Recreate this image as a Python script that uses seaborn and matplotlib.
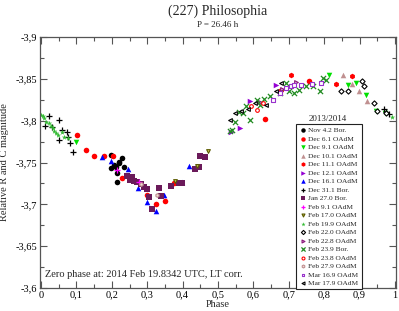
import numpy as np
import pandas as pd
import matplotlib
matplotlib.use('Agg')
import matplotlib.pyplot as plt
from matplotlib.ticker import MultipleLocator, FuncFormatter
import seaborn as sns

# values (phase, relative magnitude)
nov04_ph = [0.199, 0.228, 0.219, 0.197, 0.211, 0.233, 0.216, 0.221, 0.206, 0.215]
nov04_mag = [-3.759, -3.755, -3.749, -3.743, -3.745, -3.745, -3.737, -3.751, -3.747, -3.727]

dec06_ph = [0.101, 0.126, 0.150, 0.178, 0.204, 0.228, 0.300, 0.326, 0.351, 0.376, 0.634, 0.758]
dec06_mag = [-3.783, -3.765, -3.758, -3.758, -3.758, -3.731, -3.711, -3.700, -3.704, -3.726, -3.802, -3.847]

dec09_ph = [0.098, 0.815, 0.866, 0.889, 0.918, 0.946, 0.972]
dec09_mag = [-3.775, -3.855, -3.843, -3.845, -3.831, -3.811, -3.809]

dec10_ph = [0.852, 0.878, 0.899, 0.922]
dec10_mag = [-3.855, -3.844, -3.835, -3.823]

dec11_ph = [0.679, 0.707, 0.833, 0.880]
dec11_mag = [-3.837, -3.855, -3.844, -3.853]

dec12_ph = [0.538, 0.562, 0.590, 0.665]
dec12_mag = [-3.787, -3.791, -3.823, -3.843]

dec16_ph = [0.173, 0.197, 0.246, 0.274, 0.298, 0.326, 0.348, 0.398, 0.419]
dec16_mag = [-3.757, -3.752, -3.742, -3.720, -3.703, -3.692, -3.711, -3.727, -3.746]

dec31_ph = [0.012, 0.022, 0.031, 0.050, 0.051, 0.059, 0.073, 0.075, 0.082, 0.089, 0.969, 0.976, 0.983]
dec31_mag = [-3.794, -3.805, -3.793, -3.777, -3.801, -3.789, -3.787, -3.780, -3.773, -3.763, -3.814, -3.810, -3.808]

jan27_ph = [0.243, 0.256, 0.251, 0.262, 0.270, 0.281, 0.290, 0.298, 0.306, 0.332, 0.339, 0.314,
            0.368, 0.389, 0.398, 0.435, 0.447, 0.448, 0.463]
jan27_mag = [-3.734, -3.733, -3.729, -3.728, -3.727, -3.724, -3.721, -3.718, -3.709, -3.719, -3.710, -3.694,
             -3.722, -3.726, -3.726, -3.742, -3.745, -3.758, -3.756]

feb09_ph = [0.215, 0.276]
feb09_mag = [-3.741, -3.727]

feb17_ph = [0.379, 0.440, 0.473]
feb17_mag = [-3.728, -3.746, -3.764]

feb19_ph = [0.000, 0.005, 0.009, 0.014, 0.022, 0.028, 0.033, 0.037, 0.042, 0.047, 0.058, 0.065, 0.075, 0.993]
feb19_mag = [-3.807, -3.805, -3.803, -3.799, -3.797, -3.794, -3.791, -3.788, -3.785, -3.783, -3.786, -3.781, -3.779, -3.804]

feb22_ph = [0.847, 0.866, 0.908, 0.913, 0.941, 0.950, 0.976]
feb22_mag = [-3.835, -3.835, -3.847, -3.841, -3.821, -3.811, -3.809]

feb22b_ph = [0.620, 0.680, 0.720]
feb22b_mag = [-3.822, -3.838, -3.846]

feb23b_ph = [0.534, 0.540, 0.548, 0.560, 0.571, 0.580, 0.590, 0.609, 0.618, 0.629, 0.646, 0.674,
             0.691, 0.702, 0.716, 0.730, 0.749, 0.768, 0.787, 0.796, 0.806]
feb23b_mag = [-3.788, -3.789, -3.799, -3.810, -3.809, -3.817, -3.801, -3.825, -3.819, -3.826, -3.829, -3.833,
              -3.845, -3.835, -3.833, -3.837, -3.841, -3.841, -3.835, -3.851, -3.849]

feb23o_ph = [0.592, 0.611, 0.626]
feb23o_mag = [-3.817, -3.813, -3.821]

feb27_ph = [0.281, 0.328]
feb27_mag = [-3.724, -3.711]

mar16_ph = [0.655, 0.674, 0.691, 0.707, 0.716, 0.735, 0.766, 0.791]
mar16_mag = [-3.825, -3.833, -3.839, -3.841, -3.843, -3.843, -3.844, -3.845]

mar17_ph = [0.534, 0.548, 0.566, 0.584, 0.604, 0.637, 0.665, 0.679]
mar17_mag = [-3.801, -3.809, -3.811, -3.814, -3.821, -3.819, -3.835, -3.845]

# label, phases, mags, marker, color, fill (None = solid, 'line' = line marker, else face colour)
series = [
    ('Nov 4.2 Bor.', nov04_ph, nov04_mag, 'o', 'black', None),
    ('Dec 6.1 OAdM', dec06_ph, dec06_mag, 'o', 'red', None),
    ('Dec 9.1 OAdM', dec09_ph, dec09_mag, 'v', '#00e000', None),
    ('Dec 10.1 OAdM', dec10_ph, dec10_mag, '^', '#c09090', None),
    ('Dec 11.1 OAdM', dec11_ph, dec11_mag, 'h', 'red', None),
    ('Dec 12.1 OAdM', dec12_ph, dec12_mag, '>', '#9400d3', None),
    ('Dec 16.1 OAdM', dec16_ph, dec16_mag, '^', '#0000ff', None),
    ('Dec 31.1 Bor.', dec31_ph, dec31_mag, '+', 'black', 'line'),
    ('Jan 27.0 Bor.', jan27_ph, jan27_mag, 's', '#6b1a5a', None),
    ('Feb 9.1 OAdM', feb09_ph, feb09_mag, '+', '#ff00ff', 'line'),
    ('Feb 17.0 OAdM', feb17_ph, feb17_mag, 'v', '#5a5a00', '#d8d060'),
    ('Feb 19.9 OAdM', feb19_ph, feb19_mag, '*', '#33bb33', None),
    ('Feb 22.0 OAdM', feb22_ph, feb22_mag, 'D', 'black', 'white'),
    ('Feb 22.8 OAdM', feb22b_ph, feb22b_mag, '>', '#8b1a7a', '#e0b0e0'),
    ('Feb 23.9 Bor.', feb23b_ph, feb23b_mag, 'x', '#228b22', 'line'),
    ('Feb 23.8 OAdM', feb23o_ph, feb23o_mag, 'o', 'red', 'white'),
    ('Feb 27.9 OAdM', feb27_ph, feb27_mag, 'h', '#c09090', '#f0d8d8'),
    ('Mar 16.9 OAdM', mar16_ph, mar16_mag, 's', '#9932cc', 'white'),
    ('Mar 17.9 OAdM', mar17_ph, mar17_mag, '<', 'black', 'white'),
]

sns.set_style('ticks')
plt.rcParams['font.family'] = ['Liberation Serif', 'DejaVu Serif']

fig = plt.figure(figsize=(3.99, 3.11), dpi=100)
ax = fig.add_axes([40 / 399, 1 - 288 / 311, 356 / 399, 251 / 311])

for label, ph, mag, mk, col, fill in series:
    df = pd.DataFrame({'phase': ph, 'mag': mag})
    if fill is None:
        sns.scatterplot(data=df, x='phase', y='mag', ax=ax, marker=mk, color=col,
                        s=16, linewidth=0, label=label)
    elif fill == 'line':
        sns.scatterplot(data=df, x='phase', y='mag', ax=ax, marker=mk, color=col,
                        s=14, linewidth=0.9, label=label)
    else:
        sns.scatterplot(data=df, x='phase', y='mag', ax=ax, marker=mk, facecolor=fill,
                        edgecolor=col, s=7, linewidth=0.8, label=label)

ax.set_xlim(-0.003, 1.003)
ax.set_ylim(-3.6, -3.9)

fmt = FuncFormatter(lambda v, p: ('%g' % round(v, 3)).replace('.', ','))
ax.xaxis.set_major_locator(MultipleLocator(0.1))
ax.xaxis.set_minor_locator(MultipleLocator(0.05))
ax.yaxis.set_major_locator(MultipleLocator(0.05))
ax.yaxis.set_minor_locator(MultipleLocator(0.025))
ax.xaxis.set_major_formatter(fmt)
ax.yaxis.set_major_formatter(fmt)
ax.tick_params(which='both', direction='in', top=True, right=True, colors='#555555',
               labelcolor='black', labelsize=7.5, width=0.8, pad=2)
ax.tick_params(which='major', length=5)
ax.tick_params(which='minor', length=3)
for sp in ax.spines.values():
    sp.set_color('#555555')
    sp.set_linewidth(0.9)

ax.set_xlabel('Phase', fontsize=7.5, labelpad=0)
ax.set_ylabel('Relative R and C magnitude', fontsize=7.5, labelpad=5)

fig.text(0.545, 1 - 11 / 311, '(227) Philosophia', ha='center', va='center', fontsize=10)
fig.text(0.545, 1 - 25 / 311, 'P = 26.46 h', ha='center', va='center', fontsize=6.5)

ax.text(0.014, 0.055, 'Zero phase at: 2014 Feb 19.8342 UTC, LT corr.', transform=ax.transAxes,
        fontsize=7.5, va='center', ha='left')

ax.text(0.809, 0.673, '2013/2014', transform=ax.transAxes, fontsize=6.5, ha='center', va='center')
leg = ax.legend(loc='upper left', bbox_to_anchor=(0.719, 0.653), fontsize=5.3,
                frameon=True, fancybox=False, edgecolor='#222222', framealpha=1,
                labelspacing=0.32, borderpad=0.4, handletextpad=0.3, handlelength=1.0,
                borderaxespad=0, markerscale=0.8)
leg.get_frame().set_linewidth(0.8)

fig.savefig('out.png', dpi=100)
